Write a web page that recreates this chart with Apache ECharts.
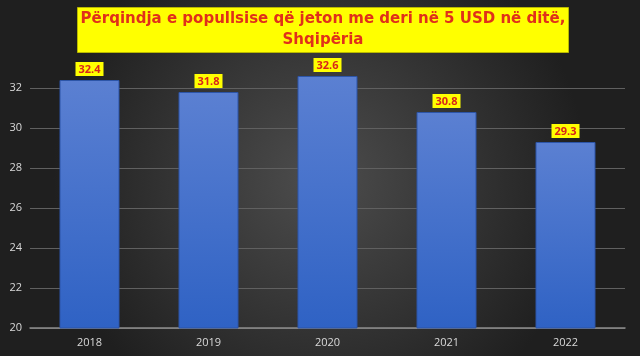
<!DOCTYPE html>
<html>
<head>
<meta charset="utf-8">
<script src="https://cdn.jsdelivr.net/npm/echarts@6/dist/echarts.min.js"></script>
<style>
  html, body { margin: 0; padding: 0; }
  #chart { width: 640px; height: 356px; }
</style>
</head>
<body>
<div id="chart"></div>
<script>
// data
const years = ['2018', '2019', '2020', '2021', '2022'];
const values = [32.4, 31.8, 32.6, 30.8, 29.3];
const titleLines = ['Përqindja e popullsise që jeton me deri në 5 USD në ditë,', 'Shqipëria'];

const myChart = echarts.init(document.getElementById('chart'));
const option = {
  backgroundColor: new echarts.graphic.RadialGradient(0.5, 0.5, 0.75, [
    { offset: 0, color: '#4d4d4d' },
    { offset: 1, color: '#1f1f1f' }
  ]),
  title: {
    text: titleLines.join('\n'),
    left: '50%',
    textAlign: 'center',
    top: 7,
    padding: [2, 3, 2, 3],
    backgroundColor: '#ffff00',
    borderColor: '#b8b800',
    borderWidth: 1,
    textStyle: {
      fontFamily: 'DejaVu Sans',
      fontWeight: 'bold',
      fontSize: 15,
      lineHeight: 21,
      color: '#e0301a'
    }
  },
  grid: { left: 30, right: 15, top: 68, bottom: 28, containLabel: false },
  xAxis: {
    type: 'category',
    data: years,
    axisTick: { show: false },
    axisLine: { lineStyle: { color: '#8c8c8c', width: 1.5 } },
    axisLabel: { color: '#d9d9d9', fontSize: 11, margin: 9, fontFamily: 'Open Sans' }
  },
  yAxis: {
    type: 'value',
    min: 20,
    max: 33,
    interval: 2,
    axisLine: { show: false },
    axisTick: { show: false },
    axisLabel: { color: '#d9d9d9', fontSize: 11, margin: 8, showMaxLabel: false, fontFamily: 'Open Sans' },
    splitLine: { showMaxLine: false, lineStyle: { color: '#606060', width: 1 } }
  },
  series: [{
    type: 'bar',
    data: values,
    barWidth: 60,
    itemStyle: {
      color: new echarts.graphic.LinearGradient(0, 0, 0, 1, [
        { offset: 0, color: '#5b80d2' },
        { offset: 1, color: '#2f62c4' }
      ]),
      borderColor: '#2c55a8',
      borderWidth: 1
    },
    label: {
      show: true,
      position: 'top',
      distance: 4,
      backgroundColor: '#ffff00',
      padding: [2, 3, 1, 3],
      color: '#d8261a',
      fontWeight: 'bold',
      fontSize: 11,
      fontFamily: 'Open Sans'
    }
  }]
};
myChart.setOption(option);
</script>
</body>
</html>
